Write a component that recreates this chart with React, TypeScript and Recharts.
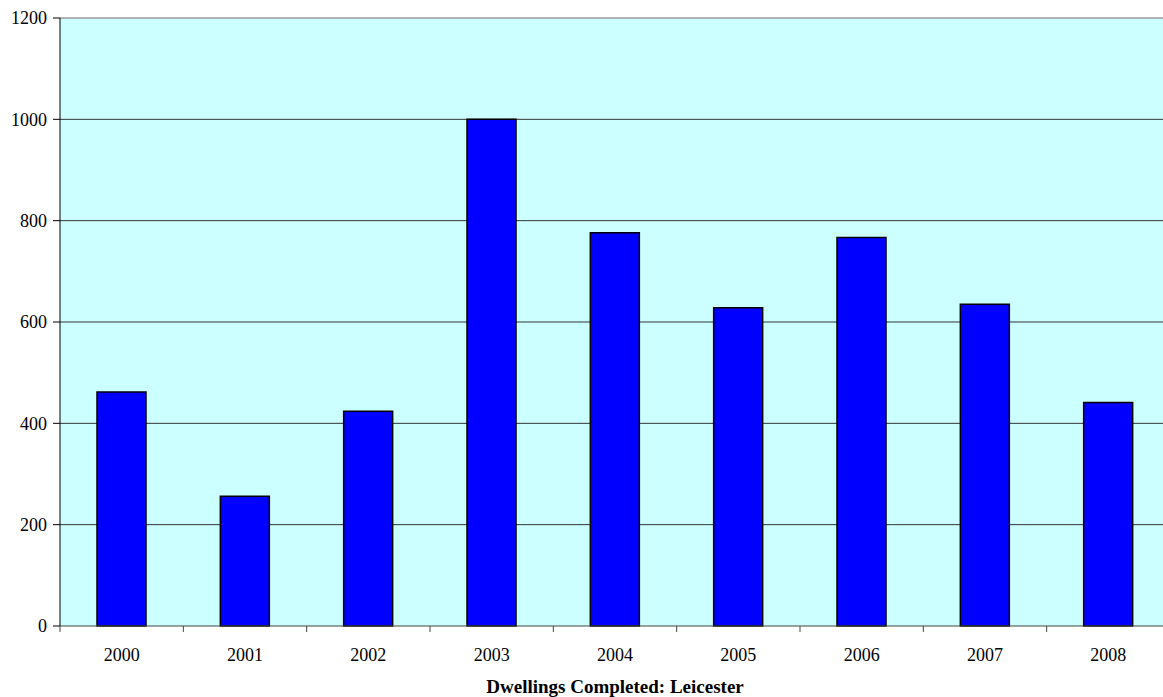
import React from 'react';
import {
  BarChart,
  Bar,
  XAxis,
  YAxis,
  CartesianGrid,
  ReferenceLine,
} from 'recharts';

const years = ['2000', '2001', '2002', '2003', '2004', '2005', '2006', '2007', '2008'];
const completions = [462, 256, 424, 1000, 776, 628, 767, 635, 441];
const yTicks = [0, 200, 400, 600, 800, 1000, 1200];
const gridLines = [200, 400, 600, 800, 1000];

const FONT = '"Liberation Serif", "Times New Roman", serif';
const BG = '#ccffff';
const BAR = '#0000ff';
const AXIS = '#444';

const data = years.map((year, i) => ({ year, value: completions[i] }));

// Year label centred in its band, with the tick mark on the band's left edge
function YearTick(props: any) {
  const { x, y, payload } = props;
  const half = payload.offset ?? 0;
  return (
    <g>
      <line x1={x - half} x2={x - half} y1={y} y2={y + 6} stroke={AXIS} />
      <text
        x={x}
        y={y + 22}
        dy="0.71em"
        textAnchor="middle"
        fill="#000"
        fontSize={18}
        fontFamily={FONT}
      >
        {payload.value}
      </text>
    </g>
  );
}

export default function App() {
  return (
    <div
      style={{
        position: 'absolute',
        left: 0,
        top: 0,
        width: 1163,
        height: 697,
        overflow: 'hidden',
        background: '#fff',
        fontFamily: FONT,
      }}
    >
      <BarChart
        width={1171}
        height={697}
        data={data}
        margin={{ top: 18, right: 1, left: 0, bottom: 0 }}
        barCategoryGap="30%"
      >
        <CartesianGrid
          fill={BG}
          vertical={false}
          stroke="#333"
          horizontalValues={gridLines}
        />
        <XAxis
          dataKey="year"
          height={71}
          axisLine={{ stroke: AXIS }}
          tickLine={false}
          tickSize={0}
          tickMargin={0}
          tick={<YearTick />}
        />
        <YAxis
          domain={[0, 1200]}
          ticks={yTicks}
          width={60}
          tickSize={7}
          tickMargin={6}
          interval={0}
          axisLine={{ stroke: '#000' }}
          tickLine={{ stroke: '#000' }}
          tick={{ fill: '#000', fontSize: 18, fontFamily: FONT }}
        />
        <ReferenceLine y={1200} stroke="#9a9a9a" strokeWidth={1.5} />
        <Bar
          dataKey="value"
          fill={BAR}
          stroke="#000"
          strokeWidth={1.5}
          isAnimationActive={false}
        />
      </BarChart>
      <div
        style={{
          position: 'absolute',
          left: 0,
          width: 1230,
          top: 676,
          textAlign: 'center',
          fontWeight: 'bold',
          fontSize: 19,
          lineHeight: '22px',
          color: '#000',
        }}
      >
        Dwellings Completed: Leicester
      </div>
    </div>
  );
}
